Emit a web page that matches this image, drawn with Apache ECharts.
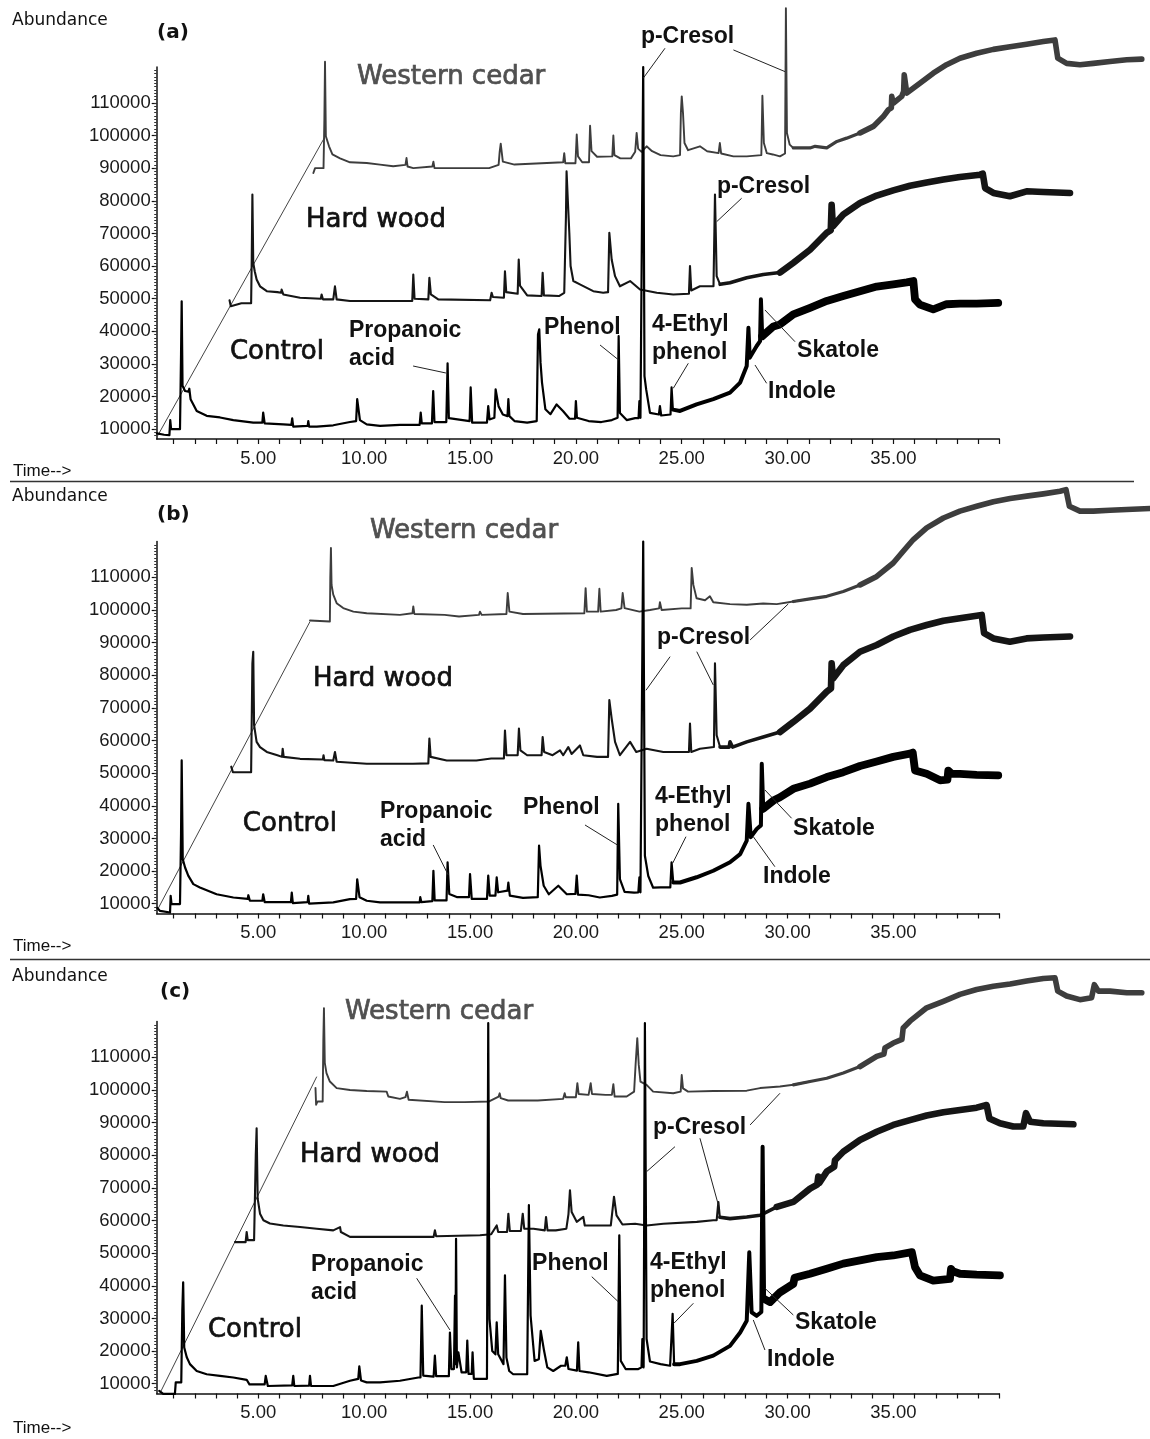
<!DOCTYPE html>
<html>
<head>
<meta charset="utf-8">
<title>Headspace GC-MS chromatograms</title>
<script src="https://cdn.jsdelivr.net/npm/echarts@6/dist/echarts.min.js"></script>
<style>
  html, body { margin: 0; padding: 0; background: #fff; }
  #chart { width: 1150px; height: 1439px; }
</style>
</head>
<body>
<div id="chart"></div>
<script>
// ---- axis ticks ----
const timeLabels = [5, 10, 15, 20, 25, 30, 35];
const minuteTicks = [1,2,3,4,5,6,7,8,9,10,11,12,13,14,15,16,17,18,19,20,21,22,23,24,25,26,27,28,29,30,31,32,33,34,35,36,37,38,39,40];
const abundanceLabels = [10000, 20000, 30000, 40000, 50000, 60000, 70000, 80000, 90000, 100000, 110000];

// ---- traces: [retention time (min), abundance] as placed in the stacked overlay view ----
// panel (a)
const controlA = [[0.21,8700],[0.55,8300],[0.80,8200],[0.84,12800],[0.88,10000],[1.30,10000],[1.35,33000],[1.38,49200],[1.42,23300],[1.54,21700],[1.70,21500],[1.74,22400],[1.80,19200],[2.09,15600],[2.56,14100],[3.19,13600],[3.82,12800],[4.76,12000],[5.19,12000],[5.23,15100],[5.30,11800],[6.18,11500],[6.56,11300],[6.60,13300],[6.65,10800],[7.33,11000],[7.36,12500],[7.40,10800],[7.76,10800],[8.54,11200],[9.33,12200],[9.62,12500],[9.67,19200],[9.80,12800],[10.12,11500],[10.75,11000],[11.69,11300],[12.62,11300],[12.67,15100],[12.72,11800],[13.20,11800],[13.26,21700],[13.32,12200],[13.88,12200],[13.94,30200],[14.00,13400],[14.98,12500],[15.03,22800],[15.10,12000],[15.80,12000],[15.86,17100],[15.92,13000],[16.15,13500],[16.21,22200],[16.35,17000],[16.55,14500],[16.77,14000],[16.81,19200],[16.86,14000],[17.10,12500],[17.70,12000],[18.15,12500],[18.21,39000],[18.27,40600],[18.33,30400],[18.40,24300],[18.56,16100],[18.80,14600],[19.09,17600],[19.40,15500],[19.70,13200],[19.96,13200],[20.00,18600],[20.05,13500],[20.60,12500],[21.20,12200],[21.70,12800],[21.97,13500],[22.02,38500],[22.08,15000],[22.40,12800],[22.80,13400],[22.96,13400],[23.00,18600],[23.05,13500],[23.14,14000],[23.18,121000],[23.24,26300],[23.32,22200],[23.50,15000],[23.92,14500],[23.97,17100],[24.03,14200],[24.47,14500],[24.52,22800],[24.58,16000],[24.92,15600],[25.70,17600],[26.49,19200],[27.28,21200],[27.76,24300],[28.07,29400],[28.15,41100],[28.21,31900],[28.54,35500],[28.70,37000],[28.74,49800],[28.80,38500],[29.33,41500],[29.64,42100],[30.27,45200],[31.06,47200],[31.85,49300],[32.63,50800],[33.42,52300],[34.21,53700],[34.99,54400],[35.63,55000],[35.94,55400],[36.02,49800],[36.25,48200],[36.88,46700],[37.51,48300],[38.14,48500],[38.93,48500],[39.95,48700]];
const hardwoodA = [[3.64,49500],[3.70,47700],[4.20,48600],[4.66,48600],[4.69,62600],[4.72,81900],[4.76,61000],[4.83,58400],[4.92,55900],[5.08,53800],[5.40,52300],[5.90,52000],[6.08,51800],[6.10,52800],[6.18,51300],[6.97,50300],[7.95,50000],[7.99,51300],[8.05,49800],[8.54,49800],[8.62,53800],[8.70,49800],[9.33,49300],[10.75,49300],[12.27,49300],[12.32,57400],[12.38,50000],[13.03,49800],[13.08,56400],[13.15,51300],[13.50,49800],[15.95,49500],[16.02,51800],[16.08,50500],[16.60,50300],[16.65,58400],[16.71,52000],[17.25,51500],[17.30,62000],[17.36,54000],[17.70,51000],[18.38,50800],[18.43,57900],[18.49,51000],[19.20,50800],[19.45,51800],[19.53,75000],[19.56,89000],[19.62,80000],[19.69,70200],[19.75,60000],[19.88,55400],[20.19,54400],[20.82,52300],[21.29,51800],[21.52,52000],[21.58,70200],[21.69,62000],[21.85,56900],[22.08,53800],[22.56,55400],[23.03,52800],[23.82,51800],[24.60,51300],[25.34,51500],[25.39,60000],[25.45,52500],[25.86,53800],[26.50,53800],[26.57,81900],[26.65,56900],[26.81,54400],[27.28,54900],[28.07,56400],[28.85,57400],[29.64,58000],[30.27,61000],[31.06,65000],[31.85,70200],[32.04,71000],[32.08,78800],[32.14,72200],[32.63,75800],[33.42,79300],[34.21,81600],[34.99,83200],[35.78,84600],[36.57,85600],[37.36,86500],[38.14,87300],[39.09,88000],[39.22,88300],[39.33,83900],[39.72,82400],[40.50,81400],[41.29,82900],[42.08,82700],[43.34,82400]];
const cedarA = [[7.60,88500],[7.68,90000],[8.08,90000],[8.12,105000],[8.15,122600],[8.19,99800],[8.34,96700],[8.50,94200],[8.86,93000],[9.33,91800],[10.12,91600],[10.75,91100],[11.37,90600],[11.95,91000],[12.00,93100],[12.05,90500],[12.32,90000],[13.22,90500],[13.27,92000],[13.32,90000],[15.90,90000],[16.35,91000],[16.40,95000],[16.45,97500],[16.55,92000],[17.10,91100],[19.40,91800],[19.45,94600],[19.50,91500],[19.98,91500],[20.04,100300],[20.10,93600],[20.30,91800],[20.62,91800],[20.67,103000],[20.74,95200],[21.00,93500],[21.72,93600],[21.77,100000],[21.82,94000],[22.10,93000],[22.60,93000],[22.80,95000],[22.87,100800],[22.94,96000],[23.10,95000],[23.34,96700],[23.60,95200],[24.00,94000],[24.60,93600],[24.92,94000],[24.96,107000],[25.00,112000],[25.06,106900],[25.13,97700],[25.30,95500],[25.86,96700],[26.20,95200],[26.74,94600],[26.80,97700],[26.86,94500],[27.44,93600],[28.07,93600],[28.76,94000],[28.81,112200],[28.88,97700],[29.02,94600],[29.30,94200],[29.64,93600],[29.88,94500],[29.92,139000],[29.97,100800],[30.10,97200],[30.27,96200],[31.06,96200],[31.30,96700],[31.85,96200],[32.33,98200],[32.79,99200],[33.42,100800],[34.05,102800],[34.52,105800],[34.76,107900],[34.90,108500],[34.92,112000],[34.99,109900],[35.39,112000],[35.48,113500],[35.51,118600],[35.63,113000],[36.25,116000],[36.88,119100],[37.51,121700],[38.14,123700],[38.93,125200],[39.72,126400],[40.51,127200],[41.29,128000],[42.08,128800],[42.63,129300],[42.76,123700],[43.18,122100],[43.81,121700],[44.44,122100],[45.23,122700],[46.02,123200],[46.73,123400]];

// panel (b)
const controlB = [[0.23,8700],[0.36,7800],[0.83,7300],[0.86,12400],[0.90,9900],[1.30,9900],[1.35,31400],[1.38,53900],[1.43,23700],[1.54,21100],[1.69,18600],[1.93,16000],[2.24,15000],[3.03,12900],[3.82,11900],[4.50,11500],[4.53,12600],[4.60,10900],[5.19,10900],[5.23,12900],[5.30,10500],[6.54,10500],[6.58,13400],[6.63,10200],[7.33,10500],[7.36,12400],[7.40,10000],[8.54,10400],[9.33,11400],[9.62,11500],[9.67,17500],[9.78,12000],[10.12,10900],[10.75,10400],[11.69,10400],[12.62,10400],[12.65,12000],[12.70,10500],[13.22,10800],[13.27,20100],[13.33,11000],[13.89,11000],[13.94,22700],[14.02,13000],[14.40,12000],[14.95,12000],[15.00,19100],[15.08,11500],[15.80,11500],[15.86,18600],[15.93,12500],[16.20,12500],[16.26,18100],[16.33,13500],[16.77,14000],[16.81,16500],[16.88,12500],[17.50,11800],[18.20,12000],[18.26,27800],[18.33,21600],[18.48,15500],[18.72,12900],[19.17,15500],[19.57,12900],[19.98,13000],[20.04,18600],[20.10,12800],[20.60,12600],[21.13,11900],[21.70,12400],[21.95,12800],[22.00,40600],[22.08,17500],[22.30,13600],[22.75,13400],[22.95,13500],[23.00,18100],[23.05,13500],[23.14,14000],[23.18,121000],[23.26,24700],[23.42,18500],[23.65,14900],[24.00,15000],[24.46,15000],[24.52,22700],[24.60,16500],[24.92,16500],[25.70,18100],[26.49,20100],[27.28,22700],[27.76,25200],[28.07,29300],[28.15,40600],[28.26,30400],[28.54,32900],[28.74,34000],[28.78,52900],[28.85,39100],[29.33,41600],[29.64,42600],[30.27,45200],[31.06,46800],[31.85,48800],[32.63,50300],[33.42,52200],[34.21,53600],[34.99,55000],[35.78,56000],[35.91,56300],[36.02,50800],[36.57,49800],[37.20,47800],[37.55,48000],[37.59,50800],[37.75,49800],[38.14,49800],[38.93,49500],[39.95,49300]];
const hardwoodB = [[3.72,52000],[3.80,50300],[4.66,50300],[4.72,83600],[4.76,87200],[4.80,64700],[4.92,59600],[5.08,58000],[5.40,56500],[5.90,55500],[6.12,55000],[6.15,57500],[6.20,55000],[6.97,54400],[8.05,54200],[8.08,55500],[8.12,54000],[8.54,53900],[8.62,56500],[8.70,53500],[10.12,52900],[12.30,52900],[13.03,53000],[13.08,60600],[13.14,55000],[13.90,53900],[15.30,53900],[16.00,54500],[16.60,54500],[16.65,63100],[16.72,55500],[17.25,55500],[17.31,63700],[17.38,57000],[17.70,55500],[18.38,55500],[18.43,61100],[18.50,56500],[18.90,55500],[19.25,57000],[19.40,55500],[19.64,58000],[19.80,55900],[20.19,58500],[20.35,55500],[21.00,55000],[21.52,55000],[21.58,72400],[21.69,66700],[21.85,59600],[22.08,55500],[22.56,59600],[22.85,56500],[23.34,57500],[24.13,56500],[25.34,56500],[25.39,65200],[25.45,56500],[25.86,57500],[26.52,58000],[26.57,83700],[26.65,61600],[26.81,58000],[27.24,58000],[27.28,59600],[27.40,58000],[28.07,59600],[28.85,61100],[29.64,62600],[30.27,65700],[31.06,69800],[31.85,75000],[32.05,76000],[32.08,83700],[32.15,79000],[32.63,83100],[33.42,87200],[34.21,89300],[34.99,91900],[35.78,93900],[36.57,95400],[37.36,96700],[38.14,97500],[39.17,98500],[39.28,92900],[39.72,91300],[40.50,90300],[41.29,91300],[42.08,91600],[43.34,91900]];
const cedarB = [[7.44,96800],[7.52,96500],[8.38,96500],[8.40,110000],[8.43,119000],[8.46,107700],[8.54,104700],[8.70,102100],[9.01,100600],[9.49,99500],[10.12,99000],[11.69,98500],[12.28,99000],[12.32,101100],[12.37,98800],[13.80,98500],[14.48,98000],[15.42,98500],[15.47,99500],[15.55,98500],[16.72,98800],[16.78,105200],[16.86,99500],[17.50,98800],[20.40,99000],[20.46,106700],[20.52,99500],[21.05,99500],[21.11,106500],[21.17,99500],[21.90,100000],[22.15,100500],[22.21,105200],[22.30,100600],[23.00,99500],[23.50,100000],[23.93,100500],[23.97,102400],[24.05,100000],[25.00,100500],[25.42,100500],[25.47,112900],[25.55,107700],[25.70,103600],[26.10,103000],[26.33,104200],[26.49,102400],[27.28,101800],[28.07,101600],[28.85,102000],[29.49,101800],[30.27,102600],[31.06,103400],[31.85,104200],[32.63,105700],[33.42,107700],[34.21,110300],[34.99,114400],[35.46,118000],[35.94,121600],[36.57,125200],[37.36,128200],[38.14,130300],[38.93,131800],[39.72,133200],[40.51,134200],[41.29,134900],[42.08,135600],[42.87,136400],[43.15,136900],[43.31,131800],[43.81,130300],[44.44,130300],[45.23,130600],[46.02,130800],[47.12,131100]];

// panel (c)
const controlC = [[0.32,7800],[0.51,6900],[1.06,6900],[1.10,10400],[1.36,10400],[1.41,32400],[1.45,41100],[1.50,21100],[1.62,18100],[1.77,16000],[2.09,13900],[2.56,12900],[3.19,12400],[3.82,11900],[4.45,11200],[4.58,9800],[5.30,9800],[5.35,12400],[5.45,9300],[6.60,9500],[6.65,12400],[6.70,9300],[7.40,9400],[7.44,12400],[7.49,9300],[8.54,9300],[9.33,10900],[9.72,11500],[9.77,15300],[9.85,11000],[10.12,10400],[10.75,10400],[11.69,10900],[12.56,11900],[12.66,11900],[12.72,33900],[12.79,12500],[13.28,12200],[13.34,18600],[13.40,12300],[14.00,12300],[14.05,25700],[14.12,14500],[14.24,14500],[14.29,37000],[14.31,16000],[14.34,54400],[14.38,15000],[14.45,19600],[14.60,13500],[14.82,13500],[14.87,23200],[14.93,13000],[15.08,13000],[15.12,19600],[15.18,11500],[15.80,11500],[15.86,120500],[15.92,29800],[16.05,20000],[16.20,19000],[16.26,28800],[16.33,19000],[16.58,16000],[16.65,43200],[16.72,18000],[16.85,13900],[17.04,12900],[17.70,12900],[17.78,64700],[17.86,30900],[18.05,17000],[18.25,17500],[18.34,26200],[18.50,20000],[18.65,15000],[18.93,13900],[19.30,15500],[19.50,15500],[19.57,18100],[19.65,14500],[20.05,14000],[20.11,22700],[20.17,13900],[20.60,13500],[21.46,12400],[21.98,13000],[22.05,55500],[22.12,17000],[22.35,14500],[22.95,14500],[23.10,15000],[23.14,23700],[23.20,15000],[23.26,120500],[23.34,23700],[23.50,16800],[24.00,16000],[24.45,15500],[24.57,31400],[24.64,16000],[24.92,16000],[25.71,17000],[26.49,18600],[27.28,21600],[27.76,25700],[28.07,29300],[28.19,50300],[28.30,31900],[28.54,30800],[28.76,32000],[28.82,82600],[28.89,36000],[29.17,35000],[29.64,38000],[30.27,40600],[30.33,42500],[31.06,43700],[31.85,45200],[32.63,46800],[33.42,47800],[34.21,48800],[34.99,49300],[35.87,50300],[36.02,45700],[36.25,43200],[36.88,41600],[37.67,42100],[37.72,45200],[37.80,44500],[38.14,43700],[38.93,43400],[40.03,43200]];
const hardwoodC = [[3.90,53400],[4.40,53400],[4.45,56500],[4.50,54000],[4.80,54000],[4.88,80100],[4.92,88300],[4.97,66700],[5.08,62100],[5.24,60100],[5.55,59100],[6.18,58500],[6.97,58000],[7.76,57500],[8.54,57000],[8.86,58000],[8.90,56500],[9.33,55000],[10.12,55000],[12.50,55000],[13.28,55000],[13.34,57000],[13.40,55200],[15.47,55500],[16.00,55800],[16.26,58500],[16.33,56500],[16.75,56500],[16.81,62100],[16.88,56800],[17.40,56800],[17.49,62100],[17.56,57500],[18.00,57500],[18.53,57000],[18.59,61100],[18.66,57000],[19.05,57000],[19.55,57500],[19.65,62000],[19.72,69300],[19.80,62600],[20.04,59600],[20.35,61100],[20.42,58500],[21.00,58500],[21.65,58500],[21.80,67300],[21.92,61600],[22.20,58800],[22.80,59000],[23.34,58500],[24.13,59000],[25.71,59600],[26.49,60100],[26.65,60100],[26.73,65700],[26.80,61000],[27.28,60600],[28.07,61100],[28.70,61600],[29.49,64200],[30.27,65700],[31.06,69800],[31.40,71000],[31.45,73500],[31.50,71500],[31.85,75000],[32.20,76500],[32.24,78500],[32.63,81100],[33.42,84700],[34.21,87200],[34.99,89300],[35.78,90800],[36.57,92200],[37.36,93200],[38.14,93900],[38.93,94600],[39.40,95400],[39.53,91300],[40.03,89800],[40.66,88800],[41.13,88800],[41.26,92900],[41.45,90300],[42.08,89800],[43.50,89500]];
const cedarC = [[7.70,100600],[7.73,95500],[7.80,96500],[8.04,96500],[8.07,115000],[8.10,125100],[8.14,108300],[8.22,105200],[8.38,102600],[8.70,100600],[9.33,100000],[10.12,99700],[11.06,99500],[11.14,98000],[11.69,97300],[11.95,97800],[12.02,99500],[12.10,97000],[12.16,96500],[13.80,96300],[14.75,96300],[15.90,96500],[16.35,98000],[16.40,99000],[16.45,97500],[16.80,96800],[18.20,96800],[19.40,97300],[19.47,99000],[19.52,97800],[20.00,97800],[20.07,102100],[20.13,98800],[20.60,98500],[20.70,102100],[20.76,98800],[21.40,98500],[21.70,98500],[21.77,101800],[21.83,98000],[22.40,98000],[22.75,99500],[22.82,107700],[22.90,115900],[22.97,107700],[23.05,102600],[23.34,101600],[23.50,100500],[23.65,99500],[24.60,99000],[24.95,99500],[25.00,104600],[25.06,100500],[25.30,99500],[26.49,99700],[28.07,99800],[28.70,100600],[29.64,101100],[30.27,101600],[31.06,102600],[31.85,103600],[32.63,105200],[33.42,107200],[34.21,110300],[34.55,111000],[34.60,112900],[34.99,114400],[35.40,115500],[35.46,119000],[35.78,121100],[36.57,125200],[37.36,127200],[38.14,129300],[38.93,130800],[39.72,131800],[40.51,132500],[41.29,133400],[42.08,134200],[42.63,134400],[42.76,130300],[43.18,128800],[43.81,127700],[44.36,128300],[44.49,132300],[44.68,130300],[45.23,130300],[46.02,129800],[46.73,129800]];

// overlay (z) axis drawn from the front trace origin towards the back trace
const diagA = [[0.21,7610],[8.15,99650]];
const diagB = [[0.23,8070],[7.44,96440]];
const diagC = [[0.35,7060],[7.76,104100]];

// annotations: [text, time, abundance] at the top-left of each text block
const labelsA = [['Western cedar',9.66,122550],['Hard wood',7.25,78720],['Control',3.66,38260],['Propanoic\nacid',9.28,44390],['Phenol',18.49,45310],['4-Ethyl\nphenol',23.59,46230],['p-Cresol',23.07,134500],['p-Cresol',26.66,88530],['Skatole',30.45,38260],['Indole',29.08,25700]];
const labelsB = [['Western cedar',10.27,128830],['Hard wood',7.58,83470],['Control',4.27,39030],['Propanoic\nacid',10.75,42400],['Phenol',17.50,43630],['4-Ethyl\nphenol',23.74,47000],['p-Cresol',23.83,95730],['Skatole',30.26,37190],['Indole',28.84,22480]];
const labelsC = [['Western cedar',9.09,128530],['Hard wood',6.97,84700],['Control',2.62,31060],['Propanoic\nacid',7.49,50680],['Phenol',17.93,50980],['4-Ethyl\nphenol',23.50,51290],['p-Cresol',23.64,92670],['Skatole',30.35,32900],['Indole',29.03,21560]];

// leader lines from the labels to their peaks
const leadersA = [[[12.31,29370],[13.86,27230]],[[21.14,35810],[22.02,31210]],[[25.31,30200],[24.60,22540]],[[24.21,126750],[23.18,117560]],[[27.44,126230],[29.88,119580]],[[27.83,80780],[26.65,73600]],[[30.35,36820],[28.93,46540]],[[29.01,24070],[28.46,29680]]];
const leadersB = [[[13.26,28000],[13.97,18800]],[[20.43,34130],[21.96,28000]],[[25.20,30540],[24.57,22390]],[[24.45,85710],[23.31,75410]],[[25.71,87240],[26.49,77030]],[[28.23,90830],[30.03,101860]],[[30.19,36180],[28.93,44850]],[[29.40,21340],[28.38,30540]]];
const leadersC = [[[12.48,42310],[14.05,26460]],[[20.75,42800],[22.00,35140]],[[25.55,34650],[24.63,28520]],[[24.68,82640],[23.34,74980]],[[25.86,85220],[26.73,64780]],[[28.23,89300],[29.64,99010]],[[30.27,31060],[28.93,39240]],[[28.93,20330],[28.38,29530]]];

// ---- layout & style ----
const X_MIN = 0.2, X_MAX = 40, Y_MIN = 7000, Y_MAX = 121000;
const GRID_LEFT = 156.7, GRID_WIDTH = 842.6, GRID_HEIGHT = 372;
const PX_PER_MIN = GRID_WIDTH / (X_MAX - X_MIN);
const CANVAS_W = 1150;
// the offset back traces run past the drawn time axis: plot them in a frame reaching the page edge
const PLOT_X_MAX = X_MIN + (CANVAS_W - GRID_LEFT - 0.01) / PX_PER_MIN;
const panels = [
  { letter: '(a)', top: 67, letterX: 157, headY: [21, 33, 471],
    control: controlA, hardwood: hardwoodA, cedar: cedarA, diag: diagA, labels: labelsA, leaders: leadersA },
  { letter: '(b)', top: 541.5, letterX: 157, headY: [496.5, 515, 946.5],
    control: controlB, hardwood: hardwoodB, cedar: cedarB, diag: diagB, labels: labelsB, leaders: leadersB },
  { letter: '(c)', top: 1021.5, letterX: 160, headY: [977, 992, 1428],
    control: controlC, hardwood: hardwoodC, cedar: cedarC, diag: diagC, labels: labelsC, leaders: leadersC }
];
// stroke colour and width steps (start time, width): the noisy late baseline draws as a broad band
const traceStyle = {
  cedar:    { color: '#3d3d3d', steps: [[0, 1.9], [30.5, 3.2], [34.0, 5.6]] },
  hardwood: { color: '#151515', steps: [[0, 2.1], [27.2, 3.6], [30.2, 6.6]] },
  control:  { color: '#000000', steps: [[0, 2.2], [24.9, 4.0], [28.9, 7.8]] }
};

const minorAbund = [];
for (let v = 8000; v <= 120000; v += 1000) minorAbund.push(v);

function segments(points, steps) {
  const out = [];
  for (let i = 0; i < steps.length; i++) {
    const t0 = steps[i][0];
    const t1 = i + 1 < steps.length ? steps[i + 1][0] : Infinity;
    let s = 0;
    while (s + 1 < points.length && points[s + 1][0] <= t0) s++;
    let e = points.length - 1;
    for (let k = s; k < points.length; k++) { if (points[k][0] >= t1) { e = k; break; } }
    out.push({ width: steps[i][1], data: points.slice(s, e + 1) });
  }
  return out;
}

const axisColor = '#111';
const tickFont = { fontFamily: '"Liberation Sans", Arial, sans-serif', fontSize: 18.5, color: '#1a1a1a' };

const grid = [], xAxis = [], yAxis = [], series = [];
panels.forEach((p, i) => {
  // visible axes frame
  grid.push({ left: GRID_LEFT, width: GRID_WIDTH, top: p.top, height: GRID_HEIGHT, containLabel: false });
  // wider plotting frame on the same scale
  grid.push({ left: GRID_LEFT, width: PX_PER_MIN * (PLOT_X_MAX - X_MIN), top: p.top, height: GRID_HEIGHT, containLabel: false });

  xAxis.push({
    type: 'value', gridIndex: 2 * i, min: X_MIN, max: X_MAX,
    axisLine: { show: true, onZero: false, lineStyle: { color: axisColor, width: 1.5 } },
    axisTick: { show: true, customValues: minuteTicks, length: 5, lineStyle: { color: axisColor, width: 1.2 } },
    axisLabel: Object.assign({ customValues: timeLabels, margin: 10, formatter: v => v.toFixed(2) }, tickFont),
    splitLine: { show: false }
  });
  xAxis.push({ type: 'value', gridIndex: 2 * i + 1, min: X_MIN, max: PLOT_X_MAX, show: false, splitLine: { show: false } });

  yAxis.push({
    type: 'value', gridIndex: 2 * i, min: Y_MIN, max: Y_MAX, position: 'left',
    axisLine: { show: true, onZero: false, lineStyle: { color: axisColor, width: 1.5 } },
    axisTick: { show: true, customValues: abundanceLabels, length: 5, lineStyle: { color: axisColor, width: 1.2 } },
    axisLabel: Object.assign({ customValues: abundanceLabels, margin: 6, formatter: v => String(v) }, tickFont),
    splitLine: { show: false }
  });
  yAxis.push({
    type: 'value', gridIndex: 2 * i, min: Y_MIN, max: Y_MAX, position: 'left', offset: 0,
    axisLine: { show: false },
    axisTick: { show: true, customValues: minorAbund, length: 2.5, lineStyle: { color: '#333', width: 1 } },
    axisLabel: { show: false },
    splitLine: { show: false }
  });
  yAxis.push({ type: 'value', gridIndex: 2 * i + 1, min: Y_MIN, max: Y_MAX, show: false, splitLine: { show: false } });

  const base = { type: 'line', xAxisIndex: 2 * i + 1, yAxisIndex: 3 * i + 2, showSymbol: false, symbol: 'none',
                 clip: false, silent: true, animation: false, smooth: false };
  series.push(Object.assign({}, base, { name: 'axis' + i, data: p.diag,
    lineStyle: { color: '#444', width: 1 }, z: 1 }));
  ['cedar', 'hardwood', 'control'].forEach((key, k) => {
    const st = traceStyle[key];
    segments(p[key], st.steps).forEach(seg => {
      series.push(Object.assign({}, base, { name: key, data: seg.data,
        lineStyle: { color: st.color, width: seg.width, join: 'round', cap: 'round' }, z: 2 + k }));
    });
  });
  p.leaders.forEach(l => {
    series.push(Object.assign({}, base, { name: 'leader', data: l,
      lineStyle: { color: '#222', width: 1 }, z: 6 }));
  });
});

const chart = echarts.init(document.getElementById('chart'), null, { renderer: 'canvas' });
chart.setOption({ backgroundColor: '#fff', animation: false, grid, xAxis, yAxis, series });

// texts placed after layout so annotations sit at their data positions
const graphic = [];
graphic.push({ type: 'line', shape: { x1: 10, y1: 481.5, x2: 1134, y2: 481.5 }, style: { stroke: '#333', lineWidth: 1.5 }, silent: true });
graphic.push({ type: 'line', shape: { x1: 10, y1: 959.5, x2: 1150, y2: 959.5 }, style: { stroke: '#333', lineWidth: 1.5 }, silent: true });

const bigNames = { 'Western cedar': '#505050', 'Hard wood': '#111', 'Control': '#111' };
panels.forEach((p, i) => {
  graphic.push({ type: 'text', x: 12, y: p.headY[0], silent: true,
    style: { text: 'Abundance', font: '17px "DejaVu Sans", sans-serif', fill: '#111', textVerticalAlign: 'middle', verticalAlign: 'middle' } });
  graphic.push({ type: 'text', x: p.letterX, y: p.headY[1], silent: true,
    style: { text: p.letter, font: 'bold 20px "DejaVu Sans", sans-serif', fill: '#111', textVerticalAlign: 'middle', verticalAlign: 'middle' } });
  graphic.push({ type: 'text', x: 13, y: p.headY[2], silent: true,
    style: { text: 'Time-->', font: '17px "Liberation Sans", Arial, sans-serif', fill: '#111', textVerticalAlign: 'middle', verticalAlign: 'middle' } });
  p.labels.forEach(([text, t, a]) => {
    const pt = chart.convertToPixel({ xAxisIndex: 2 * i + 1, yAxisIndex: 3 * i + 2 }, [t, a]);
    const big = bigNames[text];
    graphic.push({ type: 'text', x: pt[0], y: pt[1], silent: true, z: 10,
      style: big ? {
        text, font: '26px "DejaVu Sans", sans-serif', fill: big, stroke: big, lineWidth: 0.7,
        lineHeight: 30, textVerticalAlign: 'top', verticalAlign: 'top'
      } : {
        text, font: 'bold 23px "Liberation Sans", Arial, sans-serif', fill: '#111',
        lineHeight: 28, textVerticalAlign: 'top', verticalAlign: 'top'
      } });
  });
});
chart.setOption({ graphic });
</script>
</body>
</html>
